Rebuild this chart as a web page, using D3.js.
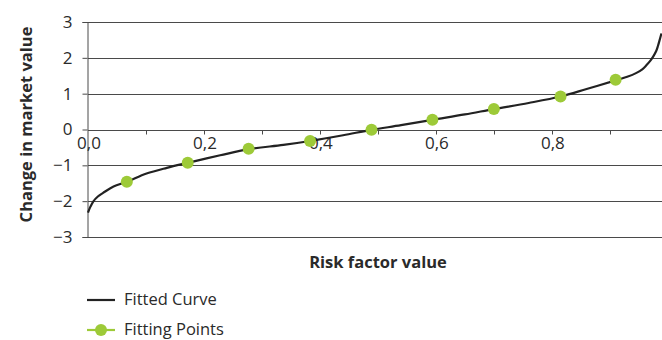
<!DOCTYPE html>
<html>
<head>
<meta charset="utf-8">
<script src="https://cdn.jsdelivr.net/npm/d3@7/dist/d3.min.js"></script>
<style>
  html, body { margin: 0; padding: 0; background: #fff; }
  svg { display: block; }
  text { font-family: "Open Sans", "Noto Sans", sans-serif; fill: #2a2a2a; }
</style>
</head>
<body>
<svg id="chart" width="662" height="340"></svg>
<script>
// Fitted curve sampled along the risk factor range
const curveX = [0.000, 0.004, 0.009, 0.017, 0.026, 0.044, 0.067, 0.101, 0.136, 0.172, 0.228, 0.277, 0.337,
                0.383, 0.440, 0.489, 0.540, 0.594, 0.650, 0.700, 0.760, 0.815, 0.860, 0.910,
                0.930, 0.946, 0.956, 0.963, 0.970, 0.975, 0.980, 0.983, 0.986, 0.989];
const curveY = [-2.32, -2.16, -2.01, -1.87, -1.77, -1.59, -1.46, -1.23, -1.07, -0.93, -0.72, -0.55, -0.43,
                -0.32, -0.16, -0.01, 0.12, 0.27, 0.42, 0.57, 0.74, 0.92, 1.13, 1.37,
                1.47, 1.58, 1.68, 1.79, 1.92, 2.04, 2.19, 2.33, 2.50, 2.68];

// Points the curve was fitted through
const pointX = [0.067, 0.172, 0.277, 0.383, 0.489, 0.594, 0.700, 0.815, 0.910];
const pointY = [-1.46, -0.93, -0.54, -0.32, -0.01, 0.27, 0.57, 0.92, 1.39];

const yTicks = [-3, -2, -1, 0, 1, 2, 3];
const xMinorTicks = [0.1, 0.2, 0.3, 0.4, 0.5, 0.6, 0.7, 0.8, 0.9];
const xLabelTicks = [0.0, 0.2, 0.4, 0.6, 0.8];

const seriesNames = ["Fitted Curve", "Fitting Points"];
const lineColor = "#222";
const dotColor = "#9dca38";

const svg = d3.select("#chart");
const plot = { left: 88, right: 662, top: 22, bottom: 237 };

const x = d3.scaleLinear().domain([0, 0.99]).range([plot.left, plot.right]);
const y = d3.scaleLinear().domain([-3, 3]).range([plot.bottom, plot.top]);

const fmt = d => d.toFixed(1).replace(".", ",");

// Horizontal gridlines
svg.append("g")
  .selectAll("line")
  .data(yTicks)
  .join("line")
  .attr("x1", plot.left)
  .attr("x2", plot.right)
  .attr("y1", d => Math.round(y(d)) + 0.5)
  .attr("y2", d => Math.round(y(d)) + 0.5)
  .attr("stroke", "#4a4a4a")
  .attr("stroke-width", 1);

// Y axis
const yAxis = svg.append("g")
  .attr("transform", `translate(${plot.left - 0.5},0)`)
  .call(d3.axisLeft(y).tickValues(yTicks).tickSize(5).tickPadding(10)
        .tickFormat(d => d < 0 ? "\u2212" + Math.abs(d) : String(d)));
yAxis.select(".domain").attr("stroke", "#4a4a4a");
yAxis.selectAll(".tick line").attr("stroke", "#4a4a4a");
yAxis.selectAll(".tick text")
  .attr("font-size", 17)
  .attr("font-family", "'Open Sans', sans-serif")
  .attr("fill", "#2a2a2a");

// X axis sits on the zero line
const y0 = Math.round(y(0)) + 0.5;
const xAxis = svg.append("g").attr("transform", `translate(0,${y0})`);
xAxis.append("line")
  .attr("x1", plot.left).attr("x2", plot.right)
  .attr("stroke", "#4a4a4a");
xAxis.selectAll("line.minor")
  .data(xMinorTicks)
  .join("line")
  .attr("class", "minor")
  .attr("x1", d => Math.round(x(d)) + 0.5)
  .attr("x2", d => Math.round(x(d)) + 0.5)
  .attr("y1", 0).attr("y2", 4)
  .attr("stroke", "#4a4a4a");
xAxis.selectAll("text")
  .data(xLabelTicks)
  .join("text")
  .attr("x", d => x(d) + 1)
  .attr("y", 18)
  .attr("text-anchor", "middle")
  .attr("font-size", 17)
  .text(fmt);

// Fitted curve
const line = d3.line()
  .x((d, i) => x(curveX[i]))
  .y(d => y(d))
  .curve(d3.curveCatmullRom.alpha(0.5));
svg.append("path")
  .datum(curveY)
  .attr("d", line)
  .attr("fill", "none")
  .attr("stroke", lineColor)
  .attr("stroke-width", 2.2);

// Fitting points
svg.append("g")
  .selectAll("circle")
  .data(pointY)
  .join("circle")
  .attr("cx", (d, i) => x(pointX[i]))
  .attr("cy", d => y(d))
  .attr("r", 6)
  .attr("fill", dotColor);

// Axis titles
svg.append("text")
  .attr("transform", `translate(32,${(plot.top + plot.bottom) / 2 - 5}) rotate(-90)`)
  .attr("text-anchor", "middle")
  .attr("font-size", 16.5)
  .attr("font-weight", 700)
  .text("Change in market value");

svg.append("text")
  .attr("x", 378)
  .attr("y", 268)
  .attr("text-anchor", "middle")
  .attr("font-size", 16.5)
  .attr("font-weight", 700)
  .text("Risk factor value");

// Legend
const legend = svg.append("g");
const rows = [300, 330];
legend.selectAll("line")
  .data(seriesNames)
  .join("line")
  .attr("x1", 87).attr("x2", 115)
  .attr("y1", (d, i) => rows[i]).attr("y2", (d, i) => rows[i])
  .attr("stroke", (d, i) => i === 0 ? lineColor : dotColor)
  .attr("stroke-width", 2.2);
legend.append("circle")
  .attr("cx", 101).attr("cy", rows[1]).attr("r", 6).attr("fill", dotColor);
legend.selectAll("text")
  .data(seriesNames)
  .join("text")
  .attr("x", 124)
  .attr("y", (d, i) => rows[i] + 5)
  .attr("font-size", 16.5)
  .text(d => d);
</script>
</body>
</html>
